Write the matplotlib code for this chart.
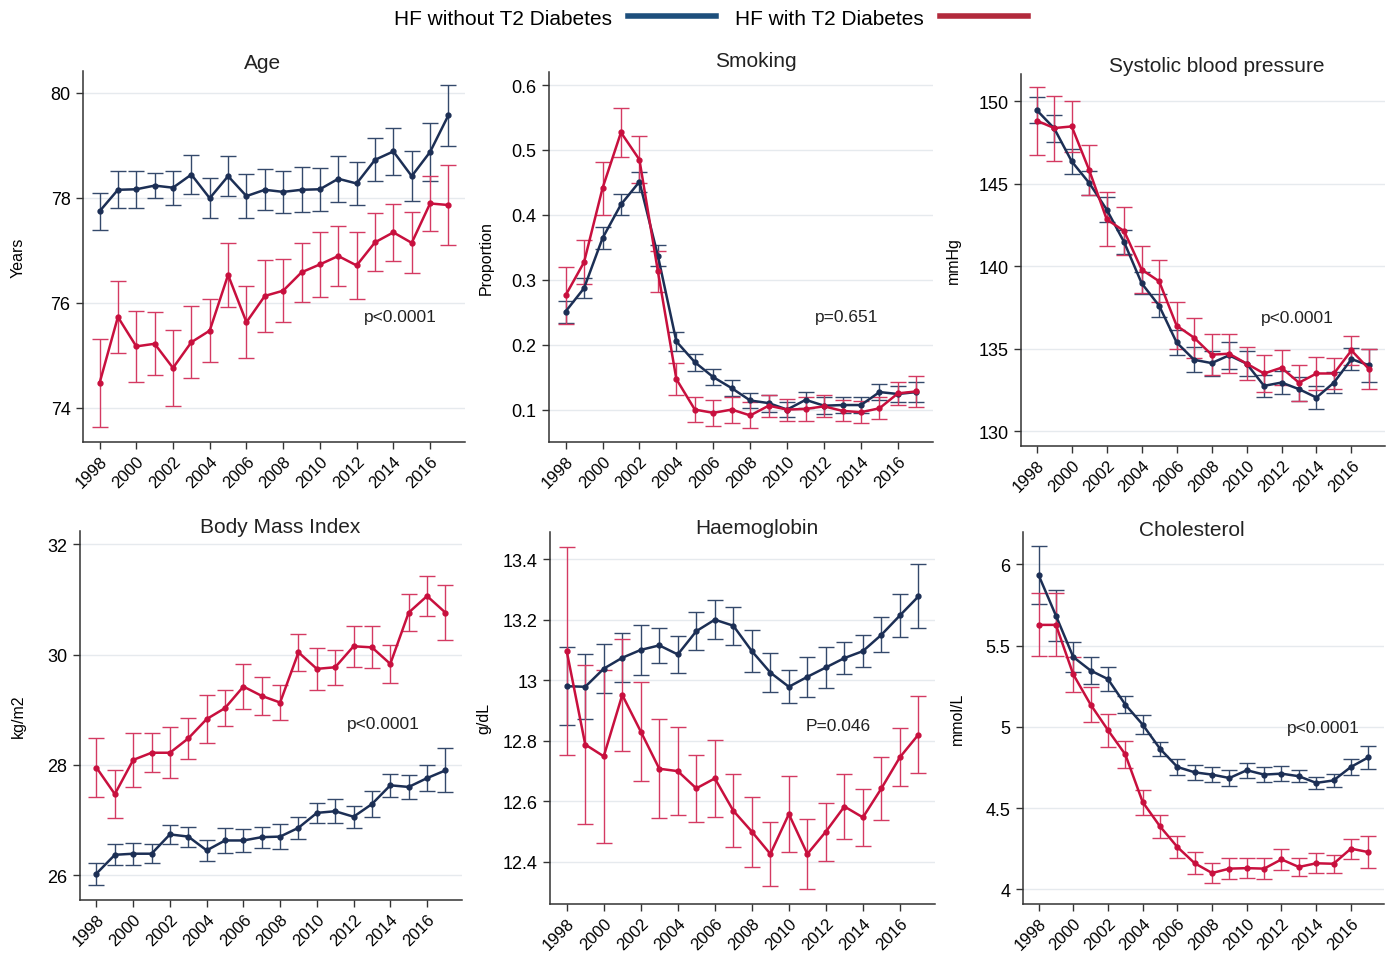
import numpy as np
import matplotlib
matplotlib.use('Agg')
import matplotlib.pyplot as plt
from matplotlib.lines import Line2D
from matplotlib.ticker import FormatStrFormatter

plt.rcParams['font.family'] = ['Liberation Sans', 'DejaVu Sans']

years = np.arange(1998, 2018)
xticks = np.arange(1998, 2017, 2)

# Age (Years)
age_no = [77.74, 78.15, 78.16, 78.23, 78.19, 78.44, 77.99, 78.41, 78.03, 78.15,
          78.11, 78.15, 78.16, 78.36, 78.27, 78.72, 78.88, 78.41, 78.87, 79.57]
age_no_ci = [0.35, 0.35, 0.35, 0.24, 0.32, 0.37, 0.38, 0.38, 0.42, 0.39,
             0.40, 0.43, 0.41, 0.44, 0.40, 0.41, 0.45, 0.47, 0.56, 0.58]
age_t2 = [74.47, 75.73, 75.17, 75.22, 74.76, 75.25, 75.47, 76.53, 75.63, 76.13,
          76.23, 76.58, 76.73, 76.89, 76.71, 77.15, 77.34, 77.14, 77.89, 77.86]
age_t2_ci = [0.84, 0.68, 0.67, 0.60, 0.72, 0.69, 0.60, 0.61, 0.69, 0.69,
             0.60, 0.56, 0.62, 0.57, 0.63, 0.55, 0.54, 0.58, 0.52, 0.76]

# Smoking (Proportion)
smk_no = [0.251, 0.287, 0.364, 0.416, 0.451, 0.337, 0.205, 0.173, 0.150, 0.133,
          0.114, 0.110, 0.100, 0.115, 0.106, 0.107, 0.107, 0.127, 0.124, 0.127]
smk_no_ci = [0.017, 0.015, 0.017, 0.016, 0.015, 0.016, 0.014, 0.013, 0.012, 0.012,
             0.012, 0.013, 0.012, 0.012, 0.013, 0.012, 0.012, 0.013, 0.013, 0.016]
smk_t2 = [0.276, 0.327, 0.441, 0.527, 0.485, 0.313, 0.147, 0.100, 0.095, 0.100,
          0.091, 0.106, 0.100, 0.101, 0.105, 0.098, 0.096, 0.102, 0.125, 0.128]
smk_t2_ci = [0.044, 0.034, 0.041, 0.038, 0.036, 0.032, 0.025, 0.019, 0.020, 0.020,
             0.020, 0.017, 0.017, 0.019, 0.017, 0.016, 0.017, 0.017, 0.018, 0.024]

# Systolic blood pressure (mmHg)
sbp_no = [149.47, 148.36, 146.36, 145.05, 143.44, 141.46, 138.97, 137.61, 135.38, 134.33,
          134.13, 134.60, 134.10, 132.75, 132.95, 132.55, 132.04, 132.95, 134.37, 134.00]
sbp_no_ci = [0.80, 0.83, 0.76, 0.75, 0.76, 0.74, 0.68, 0.69, 0.74, 0.76,
             0.76, 0.83, 0.75, 0.66, 0.71, 0.71, 0.71, 0.66, 0.68, 1.00]
sbp_t2 = [148.83, 148.38, 148.48, 145.83, 142.85, 142.13, 139.80, 139.09, 136.40, 135.67,
          134.64, 134.70, 134.10, 133.50, 133.85, 132.94, 133.50, 133.50, 134.90, 133.77]
sbp_t2_ci = [2.07, 1.97, 1.57, 1.52, 1.64, 1.47, 1.40, 1.27, 1.42, 1.21,
             1.25, 1.18, 1.02, 1.14, 1.06, 1.08, 1.01, 0.94, 0.89, 1.22]

# Body Mass Index (kg/m2)
bmi_no = [26.03, 26.37, 26.39, 26.39, 26.74, 26.70, 26.45, 26.63, 26.63, 26.69,
          26.70, 26.86, 27.13, 27.16, 27.06, 27.29, 27.63, 27.60, 27.76, 27.90]
bmi_no_ci = [0.20, 0.19, 0.20, 0.17, 0.17, 0.18, 0.19, 0.22, 0.20, 0.19,
             0.22, 0.20, 0.18, 0.22, 0.20, 0.23, 0.21, 0.21, 0.23, 0.40]
bmi_t2 = [27.95, 27.47, 28.09, 28.22, 28.22, 28.48, 28.83, 29.03, 29.42, 29.25,
          29.13, 30.04, 29.74, 29.77, 30.15, 30.13, 29.83, 30.76, 31.06, 30.76]
bmi_t2_ci = [0.53, 0.43, 0.49, 0.35, 0.46, 0.37, 0.44, 0.32, 0.40, 0.34,
             0.31, 0.34, 0.38, 0.32, 0.37, 0.38, 0.35, 0.33, 0.37, 0.50]

# Haemoglobin (g/dL)
hb_no = [12.980, 12.978, 13.038, 13.074, 13.100, 13.115, 13.085, 13.162, 13.200, 13.180,
         13.096, 13.025, 12.978, 13.011, 13.042, 13.073, 13.096, 13.150, 13.214, 13.277]
hb_no_ci = [0.129, 0.107, 0.081, 0.081, 0.082, 0.059, 0.060, 0.062, 0.065, 0.063,
            0.070, 0.064, 0.054, 0.066, 0.068, 0.053, 0.054, 0.058, 0.071, 0.106]
hb_t2 = [13.096, 12.787, 12.748, 12.951, 12.830, 12.707, 12.699, 12.642, 12.675, 12.568,
         12.499, 12.425, 12.557, 12.425, 12.499, 12.582, 12.546, 12.642, 12.745, 12.820]
hb_t2_ci = [0.345, 0.264, 0.286, 0.186, 0.165, 0.164, 0.145, 0.110, 0.127, 0.120,
            0.116, 0.106, 0.125, 0.117, 0.096, 0.108, 0.094, 0.103, 0.096, 0.127]

# Cholesterol (mmol/L)
chol_no = [5.935, 5.685, 5.430, 5.347, 5.294, 5.137, 5.014, 4.865, 4.753, 4.720,
           4.706, 4.685, 4.733, 4.706, 4.712, 4.696, 4.655, 4.670, 4.753, 4.812]
chol_no_ci = [0.177, 0.156, 0.092, 0.085, 0.076, 0.053, 0.056, 0.043, 0.049, 0.046,
              0.046, 0.049, 0.046, 0.048, 0.044, 0.037, 0.039, 0.039, 0.049, 0.072]
chol_t2 = [5.628, 5.628, 5.323, 5.137, 4.980, 4.830, 4.537, 4.387, 4.260, 4.160,
           4.100, 4.127, 4.130, 4.127, 4.184, 4.137, 4.160, 4.157, 4.250, 4.229]
chol_t2_ci = [0.194, 0.194, 0.109, 0.110, 0.102, 0.082, 0.077, 0.070, 0.068, 0.068,
              0.063, 0.063, 0.063, 0.064, 0.064, 0.058, 0.061, 0.055, 0.061, 0.100]

titles = ['Age', 'Smoking', 'Systolic blood pressure', 'Body Mass Index', 'Haemoglobin', 'Cholesterol']
ylabels = ['Years', 'Proportion', 'mmHg', 'kg/m2', 'g/dL', 'mmol/L']
pvals = ['p<0.0001', 'p=0.651', 'p<0.0001', 'p<0.0001', 'P=0.046', 'p<0.0001']
yticks = [[74, 76, 78, 80],
          [0.1, 0.2, 0.3, 0.4, 0.5, 0.6],
          [130, 135, 140, 145, 150],
          [26, 28, 30, 32],
          [12.4, 12.6, 12.8, 13.0, 13.2, 13.4],
          [4, 4.5, 5, 5.5, 6]]
series = [(age_no, age_no_ci, age_t2, age_t2_ci),
          (smk_no, smk_no_ci, smk_t2, smk_t2_ci),
          (sbp_no, sbp_no_ci, sbp_t2, sbp_t2_ci),
          (bmi_no, bmi_no_ci, bmi_t2, bmi_t2_ci),
          (hb_no, hb_no_ci, hb_t2, hb_t2_ci),
          (chol_no, chol_no_ci, chol_t2, chol_t2_ci)]

# layout (figure fractions / axes coords)
boxes = [[0.0598, 0.5356, 0.2752, 0.3889],
         [0.3955, 0.5356, 0.2767, 0.3878],
         [0.7356, 0.5314, 0.2620, 0.3900],
         [0.0576, 0.0555, 0.2752, 0.3869],
         [0.3963, 0.0515, 0.2774, 0.3898],
         [0.7370, 0.0515, 0.2600, 0.3898]]
ylims = [(73.35, 80.41), (0.05, 0.62), (129.1, 151.66), (25.55, 32.24), (12.26, 13.49), (3.91, 6.2)]
title_xy = [(0.471, 1.024), (0.540, 1.030), (0.537, 1.024), (0.524, 1.011), (0.538, 1.013), (0.467, 1.008)]
ylab_x = [-0.150, -0.145, -0.165, -0.142, -0.152, -0.160]
ptext_xy = [(2014.4, 75.73), (2013.2, 0.243), (2012.9, 136.9), (2013.6, 28.75), (2012.66, 12.85), (2014.4, 4.996)]

blue = '#1c2f55'
blue_e = '#34496b'
red = '#c8103e'
red_e = '#d43a62'

fig = plt.figure(figsize=(13.88, 9.54), dpi=100)

for i in range(6):
    ax = fig.add_axes(boxes[i])
    m1, c1, m2, c2 = series[i]
    ax.errorbar(years, m1, yerr=c1, fmt='-o', color=blue, ecolor=blue_e, lw=1.8, ms=3.5,
                elinewidth=1.0, capsize=6, capthick=1.0, zorder=3)
    ax.errorbar(years, m2, yerr=c2, fmt='-o', color=red, ecolor=red_e, lw=1.8, ms=3.5,
                elinewidth=1.0, capsize=6, capthick=1.0, zorder=3)
    ax.set_xlim(1997.1, 2017.9)
    ax.set_ylim(ylims[i])
    ax.set_xticks(xticks)
    ax.set_xticklabels([str(y) for y in xticks], rotation=45, ha='right', rotation_mode='anchor')
    ax.set_yticks(yticks[i])
    ax.yaxis.set_major_formatter(FormatStrFormatter('%g'))
    ax.tick_params(length=5, width=1, color='#333333')
    ax.tick_params(axis='x', labelsize=12, pad=3)
    ax.tick_params(axis='y', labelsize=13, pad=4)
    ax.grid(axis='y', color='#e6eaee', lw=1, zorder=0)
    for s in ['top', 'right']:
        ax.spines[s].set_visible(False)
    for s in ['left', 'bottom']:
        ax.spines[s].set_color('#333333')
        ax.spines[s].set_linewidth(1.1)
    ax.set_ylabel(ylabels[i], fontsize=11.5)
    ax.yaxis.set_label_coords(ylab_x[i], 0.5)
    ax.text(title_xy[i][0], title_xy[i][1], titles[i], transform=ax.transAxes,
            ha='center', va='center', fontsize=15, color='#222222')
    ax.text(ptext_xy[i][0], ptext_xy[i][1], pvals[i], ha='center', va='center',
            fontsize=12.5, color='#222222')

handles = [Line2D([], [], color='#1d4f7c', lw=4), Line2D([], [], color='#b22a3c', lw=4)]
fig.legend(handles, ['HF without T2 Diabetes', 'HF with T2 Diabetes'], loc='center',
           bbox_to_anchor=(0.512, 0.980), ncol=2, frameon=False, markerfirst=False,
           fontsize=15, handlelength=4.2, columnspacing=0.9, handletextpad=0.8)

plt.savefig('out.png', dpi=100)
